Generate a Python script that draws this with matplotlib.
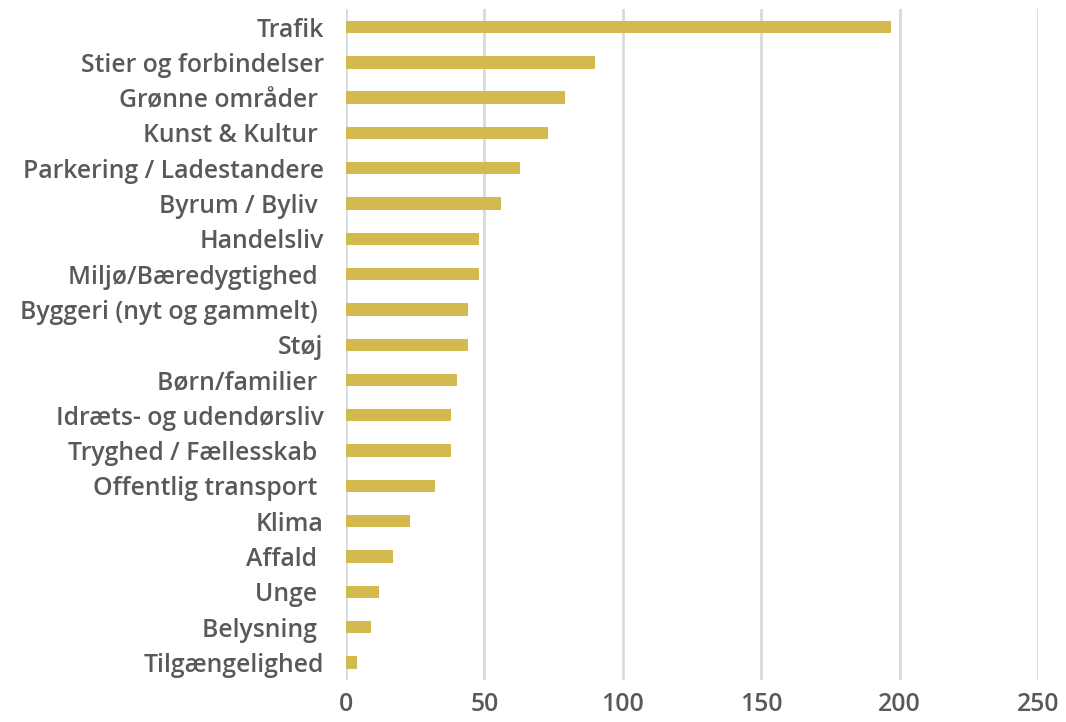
import matplotlib.pyplot as plt

# categories, top to bottom as in the chart
categories = [
    "Trafik", "Stier og forbindelser", "Grønne områder ", "Kunst & Kultur ",
    "Parkering / Ladestandere", "Byrum / Byliv ", "Handelsliv",
    "Miljø/Bæredygtighed ", "Byggeri (nyt og gammelt) ", "Støj",
    "Børn/familier ", "Idræts- og udendørsliv", "Tryghed / Fællesskab ",
    "Offentlig transport ", "Klima", "Affald ", "Unge ", "Belysning ",
    "Tilgængelighed",
]
counts = [197, 90, 79, 73, 63, 56, 48, 48, 44, 44, 40, 38, 38, 32, 23, 17, 12, 9, 4]
xticks = [0, 50, 100, 150, 200, 250]

plt.rcParams['font.family'] = ['Open Sans', 'DejaVu Sans']

fig = plt.figure(figsize=(10.66, 7.22), dpi=100)
ax = fig.add_axes([0.3246, 0.0582, 0.6491, 0.9288])

ypos = list(range(len(categories)))
ax.barh(ypos, counts, height=0.35, color='#D4B850', zorder=3)

ax.set_ylim(len(categories) - 0.5, -0.5)
ax.set_xlim(0, 250)
ax.set_yticks(ypos)
ax.set_yticklabels(categories, fontsize=17.8, color='#595959', fontweight='semibold')
ax.set_xticks(xticks)
ax.set_xticklabels([str(t) for t in xticks], fontsize=17.8, color='#595959',
                   fontweight='semibold')

ax.grid(axis='x', color='#D9D9D9', linewidth=2, zorder=0)
ax.tick_params(axis='both', length=0)
ax.tick_params(axis='y', pad=16)
ax.tick_params(axis='x', pad=9)
for s in ax.spines.values():
    s.set_visible(False)

fig.savefig('out.png', dpi=100)
